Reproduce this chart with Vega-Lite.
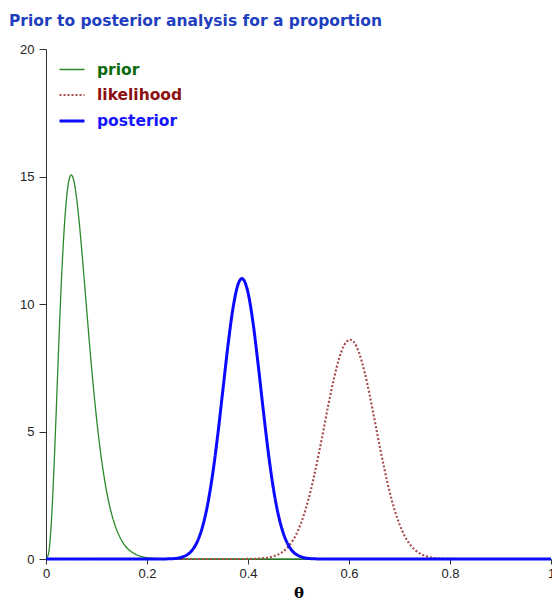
{
  "$schema": "https://vega.github.io/schema/vega-lite/v6.json",
  "autosize": {"type": "none"},
  "padding": {"left": 46, "top": 49, "right": 1, "bottom": 39},
  "width": 505,
  "height": 510,
  "title": {
    "text": "Prior to posterior analysis for a proportion",
    "anchor": "start",
    "frame": "group",
    "dx": -37,
    "offset": 2,
    "baseline": "alphabetic",
    "font": "DejaVu Sans",
    "fontSize": 15.5,
    "fontWeight": "bold",
    "color": "#1f3fbf"
  },
  "config": {
    "view": {"stroke": null},
    "axis": {
      "grid": false,
      "domainColor": "#333333",
      "tickColor": "#333333",
      "labelFont": "Liberation Sans",
      "labelFontSize": 13,
      "labelColor": "#222222"
    }
  },
  "data": {
    "values": [
      {"theta": 0, "density": 0, "series": "prior"},
      {"theta": 0.005, "density": 0.21, "series": "prior"},
      {"theta": 0.01, "density": 1.26, "series": "prior"},
      {"theta": 0.015, "density": 3.2, "series": "prior"},
      {"theta": 0.02, "density": 5.67, "series": "prior"},
      {"theta": 0.025, "density": 8.27, "series": "prior"},
      {"theta": 0.03, "density": 10.67, "series": "prior"},
      {"theta": 0.035, "density": 12.62, "series": "prior"},
      {"theta": 0.04, "density": 14.01, "series": "prior"},
      {"theta": 0.045, "density": 14.81, "series": "prior"},
      {"theta": 0.05, "density": 15.06, "series": "prior"},
      {"theta": 0.055, "density": 14.84, "series": "prior"},
      {"theta": 0.06, "density": 14.24, "series": "prior"},
      {"theta": 0.065, "density": 13.36, "series": "prior"},
      {"theta": 0.07, "density": 12.29, "series": "prior"},
      {"theta": 0.075, "density": 11.12, "series": "prior"},
      {"theta": 0.08, "density": 9.91, "series": "prior"},
      {"theta": 0.085, "density": 8.71, "series": "prior"},
      {"theta": 0.09, "density": 7.56, "series": "prior"},
      {"theta": 0.095, "density": 6.5, "series": "prior"},
      {"theta": 0.1, "density": 5.53, "series": "prior"},
      {"theta": 0.105, "density": 4.66, "series": "prior"},
      {"theta": 0.11, "density": 3.89, "series": "prior"},
      {"theta": 0.115, "density": 3.23, "series": "prior"},
      {"theta": 0.12, "density": 2.65, "series": "prior"},
      {"theta": 0.125, "density": 2.17, "series": "prior"},
      {"theta": 0.13, "density": 1.76, "series": "prior"},
      {"theta": 0.135, "density": 1.42, "series": "prior"},
      {"theta": 0.14, "density": 1.14, "series": "prior"},
      {"theta": 0.145, "density": 0.91, "series": "prior"},
      {"theta": 0.15, "density": 0.72, "series": "prior"},
      {"theta": 0.16, "density": 0.44, "series": "prior"},
      {"theta": 0.17, "density": 0.27, "series": "prior"},
      {"theta": 0.18, "density": 0.16, "series": "prior"},
      {"theta": 0.19, "density": 0.09, "series": "prior"},
      {"theta": 0.2, "density": 0.05, "series": "prior"},
      {"theta": 0.22, "density": 0.02, "series": "prior"},
      {"theta": 0.25, "density": 0.003, "series": "prior"},
      {"theta": 0.3, "density": 0, "series": "prior"},
      {"theta": 1, "density": 0, "series": "prior"},
      {"theta": 0, "density": 0, "series": "likelihood"},
      {"theta": 0.36, "density": 0, "series": "likelihood"},
      {"theta": 0.4, "density": 0.003, "series": "likelihood"},
      {"theta": 0.42, "density": 0.015, "series": "likelihood"},
      {"theta": 0.44, "density": 0.055, "series": "likelihood"},
      {"theta": 0.45, "density": 0.1, "series": "likelihood"},
      {"theta": 0.46, "density": 0.18, "series": "likelihood"},
      {"theta": 0.47, "density": 0.3, "series": "likelihood"},
      {"theta": 0.48, "density": 0.49, "series": "likelihood"},
      {"theta": 0.49, "density": 0.77, "series": "likelihood"},
      {"theta": 0.5, "density": 1.16, "series": "likelihood"},
      {"theta": 0.51, "density": 1.69, "series": "likelihood"},
      {"theta": 0.52, "density": 2.36, "series": "likelihood"},
      {"theta": 0.53, "density": 3.18, "series": "likelihood"},
      {"theta": 0.54, "density": 4.11, "series": "likelihood"},
      {"theta": 0.55, "density": 5.11, "series": "likelihood"},
      {"theta": 0.56, "density": 6.13, "series": "likelihood"},
      {"theta": 0.57, "density": 7.06, "series": "likelihood"},
      {"theta": 0.58, "density": 7.84, "series": "likelihood"},
      {"theta": 0.59, "density": 8.37, "series": "likelihood"},
      {"theta": 0.6, "density": 8.59, "series": "likelihood"},
      {"theta": 0.602, "density": 8.6, "series": "likelihood"},
      {"theta": 0.61, "density": 8.5, "series": "likelihood"},
      {"theta": 0.62, "density": 8.08, "series": "likelihood"},
      {"theta": 0.63, "density": 7.4, "series": "likelihood"},
      {"theta": 0.64, "density": 6.52, "series": "likelihood"},
      {"theta": 0.65, "density": 5.52, "series": "likelihood"},
      {"theta": 0.66, "density": 4.5, "series": "likelihood"},
      {"theta": 0.67, "density": 3.54, "series": "likelihood"},
      {"theta": 0.68, "density": 2.67, "series": "likelihood"},
      {"theta": 0.69, "density": 1.94, "series": "likelihood"},
      {"theta": 0.7, "density": 1.36, "series": "likelihood"},
      {"theta": 0.71, "density": 0.91, "series": "likelihood"},
      {"theta": 0.72, "density": 0.59, "series": "likelihood"},
      {"theta": 0.73, "density": 0.37, "series": "likelihood"},
      {"theta": 0.74, "density": 0.22, "series": "likelihood"},
      {"theta": 0.75, "density": 0.13, "series": "likelihood"},
      {"theta": 0.76, "density": 0.07, "series": "likelihood"},
      {"theta": 0.78, "density": 0.02, "series": "likelihood"},
      {"theta": 0.8, "density": 0.005, "series": "likelihood"},
      {"theta": 0.84, "density": 0, "series": "likelihood"},
      {"theta": 1, "density": 0, "series": "likelihood"},
      {"theta": 0, "density": 0, "series": "posterior"},
      {"theta": 0.22, "density": 0, "series": "posterior"},
      {"theta": 0.24, "density": 0.005, "series": "posterior"},
      {"theta": 0.26, "density": 0.03, "series": "posterior"},
      {"theta": 0.27, "density": 0.08, "series": "posterior"},
      {"theta": 0.28, "density": 0.17, "series": "posterior"},
      {"theta": 0.29, "density": 0.36, "series": "posterior"},
      {"theta": 0.3, "density": 0.7, "series": "posterior"},
      {"theta": 0.31, "density": 1.27, "series": "posterior"},
      {"theta": 0.32, "density": 2.13, "series": "posterior"},
      {"theta": 0.33, "density": 3.33, "series": "posterior"},
      {"theta": 0.34, "density": 4.85, "series": "posterior"},
      {"theta": 0.35, "density": 6.58, "series": "posterior"},
      {"theta": 0.36, "density": 8.32, "series": "posterior"},
      {"theta": 0.37, "density": 9.8, "series": "posterior"},
      {"theta": 0.38, "density": 10.75, "series": "posterior"},
      {"theta": 0.388, "density": 11.0, "series": "posterior"},
      {"theta": 0.39, "density": 10.98, "series": "posterior"},
      {"theta": 0.4, "density": 10.45, "series": "posterior"},
      {"theta": 0.41, "density": 9.26, "series": "posterior"},
      {"theta": 0.42, "density": 7.64, "series": "posterior"},
      {"theta": 0.43, "density": 5.88, "series": "posterior"},
      {"theta": 0.44, "density": 4.21, "series": "posterior"},
      {"theta": 0.45, "density": 2.8, "series": "posterior"},
      {"theta": 0.46, "density": 1.74, "series": "posterior"},
      {"theta": 0.47, "density": 1.01, "series": "posterior"},
      {"theta": 0.48, "density": 0.54, "series": "posterior"},
      {"theta": 0.49, "density": 0.27, "series": "posterior"},
      {"theta": 0.5, "density": 0.13, "series": "posterior"},
      {"theta": 0.51, "density": 0.055, "series": "posterior"},
      {"theta": 0.52, "density": 0.02, "series": "posterior"},
      {"theta": 0.54, "density": 0.003, "series": "posterior"},
      {"theta": 0.56, "density": 0, "series": "posterior"},
      {"theta": 1, "density": 0, "series": "posterior"}
    ]
  },
  "mark": {"type": "line", "interpolate": "monotone", "strokeCap": "butt"},
  "encoding": {
    "x": {
      "field": "theta",
      "type": "quantitative",
      "scale": {"domain": [0, 1], "nice": false},
      "axis": {
        "values": [0, 0.2, 0.4, 0.6, 0.8, 1],
        "format": "~g",
        "labelFlush": false,
        "tickSize": 5,
        "labelPadding": 3,
        "title": "θ",
        "titleFont": "DejaVu Serif",
        "titleFontSize": 15,
        "titleFontWeight": "bold",
        "titleColor": "#000000",
        "titlePadding": 5
      }
    },
    "y": {
      "field": "density",
      "type": "quantitative",
      "scale": {"domain": [0, 20], "nice": false},
      "axis": {
        "values": [0, 5, 10, 15, 20],
        "tickSize": 7,
        "labelPadding": 5,
        "title": null
      }
    },
    "color": {
      "field": "series",
      "type": "nominal",
      "scale": {
        "domain": ["prior", "likelihood", "posterior"],
        "range": ["#2a8a2a", "#a84a4a", "#0a0aff"]
      },
      "legend": {
        "title": null,
        "orient": "none",
        "legendX": 12,
        "legendY": 7,
        "symbolType": "stroke",
        "symbolSize": 625,
        "labelFont": "DejaVu Sans",
        "labelFontSize": 15.5,
        "labelFontWeight": "bold",
        "labelOffset": 11,
        "rowPadding": 3,
        "encode": {
          "labels": {
            "update": {
              "fill": [
                {"test": "datum.value === 'prior'", "value": "#0b6b0b"},
                {"test": "datum.value === 'likelihood'", "value": "#8b1010"},
                {"value": "#1515ff"}
              ]
            }
          }
        }
      }
    },
    "strokeDash": {
      "field": "series",
      "type": "nominal",
      "scale": {
        "domain": ["prior", "likelihood", "posterior"],
        "range": [[1, 0], [2, 2], [1, 0]]
      },
      "legend": null
    },
    "strokeWidth": {
      "field": "series",
      "type": "nominal",
      "scale": {
        "type": "point",
        "domain": ["prior", "likelihood", "posterior"],
        "range": [1.3, 3]
      },
      "legend": null
    }
  }
}
